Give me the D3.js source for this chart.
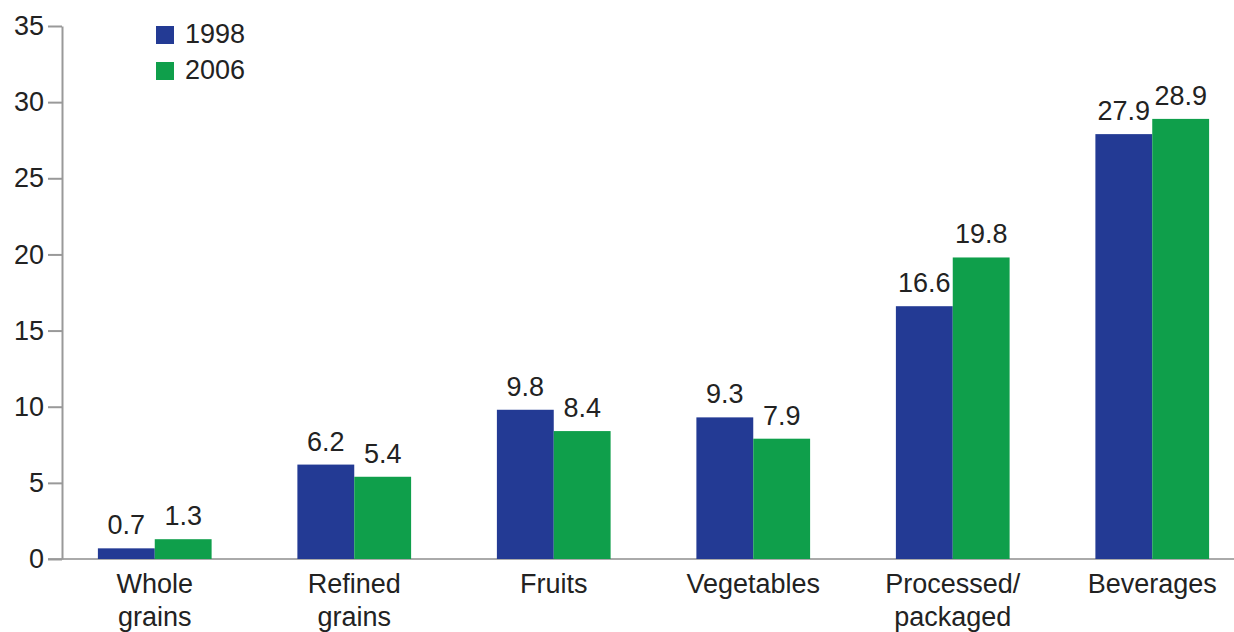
<!DOCTYPE html>
<html lang="en">
<head>
<meta charset="utf-8">
<title>Food spending 1998 vs 2006</title>
<style>
  body { margin: 0; background: #fff; }
  text { font-family: "Liberation Sans", Arial, sans-serif; fill: #222; }
</style>
</head>
<body>
<script src="https://d3js.org/d3.v7.min.js"></script>
<div id="chart"></div>
<script>
var categories = ["Whole grains", "Refined grains", "Fruits", "Vegetables", "Processed/ packaged", "Beverages"];
var years = ["1998", "2006"];
var values1998 = [0.7, 6.2, 9.8, 9.3, 16.6, 27.9];
var values2006 = [1.3, 5.4, 8.4, 7.9, 19.8, 28.9];
var yTicks = [0, 5, 10, 15, 20, 25, 30, 35];
var colors = ["#233a94", "#0f9f4b"];

var width = 1234, height = 632;
var fs = 27;
var svg = d3.select("#chart").append("svg")
  .attr("width", width)
  .attr("height", height);

var y = d3.scaleLinear().domain([0, 35]).range([559, 26]);

var x = d3.scaleBand()
  .domain(categories)
  .range([55, 1252])
  .paddingInner(0.43)
  .paddingOuter(0.215);

var x1 = d3.scaleBand().domain(years).range([0, x.bandwidth()]);

// baseline
svg.append("line")
  .attr("x1", 48).attr("x2", width)
  .attr("y1", y(0)).attr("y2", y(0))
  .attr("stroke", "#aaa").attr("stroke-width", 2);

// y axis
var yAxis = svg.append("g")
  .attr("transform", "translate(62,0)")
  .call(d3.axisLeft(y).tickValues(yTicks).tickSize(14).tickSizeOuter(0).tickPadding(4));
yAxis.select(".domain").attr("stroke", "#999").attr("stroke-width", 2);
yAxis.selectAll(".tick line").attr("stroke", "#999").attr("stroke-width", 2);
yAxis.selectAll(".tick text")
  .attr("font-size", fs)
  .attr("font-family", "'Liberation Sans', Arial, sans-serif")
  .attr("fill", "#222");

var rows = categories.map(function(c, i) {
  return { cat: c, vals: [values1998[i], values2006[i]] };
});

var groups = svg.selectAll(".grp")
  .data(rows)
  .enter().append("g")
  .attr("transform", function(d) { return "translate(" + x(d.cat) + ",0)"; });

groups.selectAll("rect")
  .data(function(d) { return d.vals.map(function(v, j) { return { year: years[j], v: v, j: j }; }); })
  .enter().append("rect")
  .attr("x", function(d) { return x1(d.year); })
  .attr("width", x1.bandwidth())
  .attr("y", function(d) { return y(d.v); })
  .attr("height", function(d) { return y(0) - y(d.v); })
  .attr("fill", function(d) { return colors[d.j]; });

groups.selectAll(".val")
  .data(function(d) { return d.vals.map(function(v, j) { return { year: years[j], v: v }; }); })
  .enter().append("text")
  .attr("class", "val")
  .attr("x", function(d) { return x1(d.year) + x1.bandwidth() / 2; })
  .attr("y", function(d) { return y(d.v) - 14; })
  .attr("text-anchor", "middle")
  .attr("font-size", fs)
  .text(function(d) { return d.v.toFixed(1); });

// category labels, two lines
groups.append("text")
  .attr("x", x.bandwidth() / 2)
  .attr("y", 593)
  .attr("text-anchor", "middle")
  .attr("font-size", fs)
  .selectAll("tspan")
  .data(function(d) {
    var p = d.cat.indexOf(" ");
    return p < 0 ? [d.cat] : [d.cat.slice(0, p), d.cat.slice(p + 1)];
  })
  .enter().append("tspan")
  .attr("x", x.bandwidth() / 2)
  .attr("dy", function(d, i) { return i === 0 ? 0 : 33; })
  .text(function(d) { return d; });

// legend
var legend = svg.selectAll(".leg")
  .data(years)
  .enter().append("g")
  .attr("transform", function(d, i) { return "translate(156," + (26 + i * 36) + ")"; });
legend.append("rect")
  .attr("width", 18).attr("height", 18)
  .attr("fill", function(d, i) { return colors[i]; });
legend.append("text")
  .attr("x", 29).attr("y", 17)
  .attr("font-size", fs)
  .text(function(d) { return d; });
</script>
</body>
</html>
